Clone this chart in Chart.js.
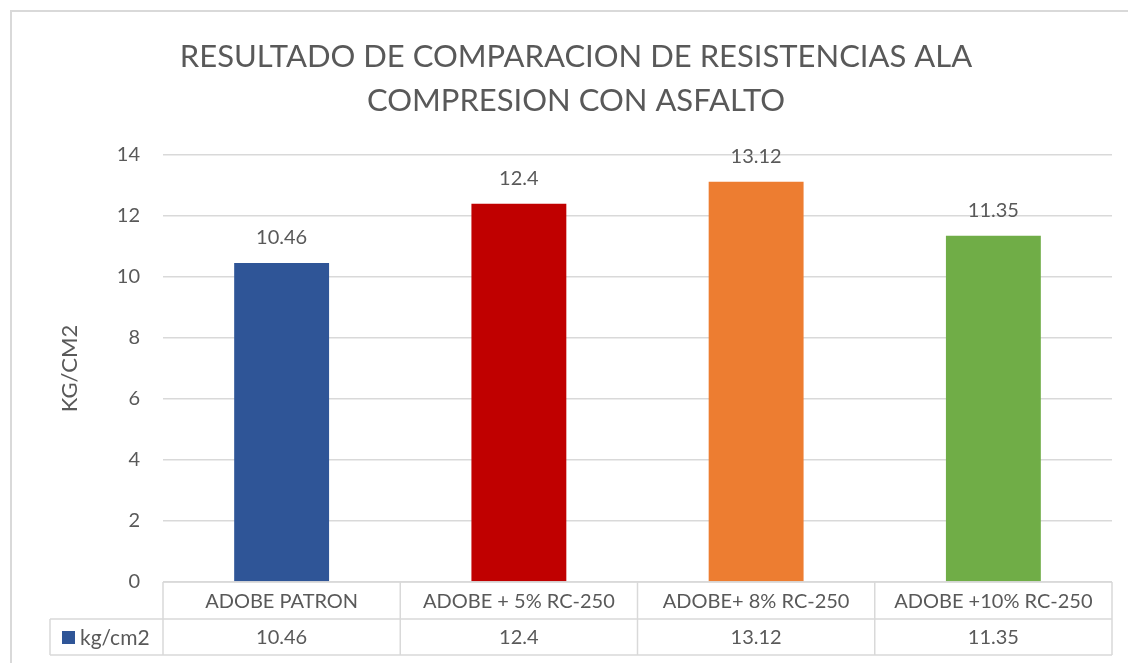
<!DOCTYPE html>
<html>
<head>
<meta charset="utf-8">
<script src="https://cdn.jsdelivr.net/npm/chart.js@4.4.1/dist/chart.umd.min.js"></script>
<style>
    html, body { margin: 0; padding: 0; background: #fff; overflow: hidden; }
    #wrap { position: relative; width: 1128px; height: 663px; overflow: hidden; }
    #frame { position: absolute; left: 10px; top: 10px; width: 1200px; height: 700px; border: 2px solid #d9d9d9; box-sizing: border-box; }
    #usageChart { position: absolute; left: 0; top: 0; }
</style>
</head>
<body>
<div id="wrap">
    <div id="frame"></div>
    <canvas id="usageChart" width="1128" height="663"></canvas>
</div>
<script>
const categories = ['ADOBE PATRON', 'ADOBE + 5% RC-250', 'ADOBE+ 8% RC-250', 'ADOBE +10% RC-250'];
const values = [10.46, 12.4, 13.12, 11.35];
const barColors = ['#2F5597', '#C00000', '#ED7D31', '#70AD47'];
const seriesName = 'kg/cm2';
const titleLines = ['RESULTADO DE COMPARACION DE RESISTENCIAS ALA', 'COMPRESION CON ASFALTO'];
const yTitle = 'KG/CM2';

const textColor = '#595959';
const lineColor = '#d9d9d9';
const fontFamily = 'Lato, "Open Sans", sans-serif';

// chart title, centred a bit right like the original
const chartTitle = {
    id: 'chartTitle',
    afterDraw(chart) {
        const ctx = chart.ctx;
        ctx.save();
        ctx.fillStyle = textColor;
        ctx.font = '31px ' + fontFamily;
        ctx.textAlign = 'center';
        ctx.textBaseline = 'middle';
        ctx.fillText(titleLines[0], 576, 57);
        ctx.fillText(titleLines[1], 576, 101);
        ctx.restore();
    }
};

// value labels above the bars
const barLabels = {
    id: 'barLabels',
    afterDatasetsDraw(chart) {
        const ctx = chart.ctx;
        const meta = chart.getDatasetMeta(0);
        ctx.save();
        ctx.fillStyle = textColor;
        ctx.font = '20px ' + fontFamily;
        ctx.textAlign = 'center';
        ctx.textBaseline = 'middle';
        meta.data.forEach(function(bar, i) {
            ctx.fillText(String(values[i]), bar.x, bar.y - 25);
        });
        ctx.restore();
    }
};

// data table under the plot (category row + value row + legend key)
const dataTable = {
    id: 'dataTable',
    afterDraw(chart) {
        const ctx = chart.ctx;
        const area = chart.chartArea;
        const xs = chart.scales.x;
        const n = categories.length;
        const step = (area.right - area.left) / n;
        const top = area.bottom;
        const mid = top + 37;
        const bot = top + 73;
        const legLeft = 50;

        ctx.save();
        ctx.strokeStyle = lineColor;
        ctx.lineWidth = 1.5;
        ctx.beginPath();
        ctx.moveTo(area.left, top); ctx.lineTo(area.right, top);
        ctx.moveTo(legLeft, mid); ctx.lineTo(area.right, mid);
        ctx.moveTo(legLeft, bot); ctx.lineTo(area.right, bot);
        ctx.moveTo(legLeft, mid); ctx.lineTo(legLeft, bot);
        for (let i = 0; i <= n; i++) {
            const x = area.left + step * i;
            ctx.moveTo(x, top); ctx.lineTo(x, bot);
        }
        ctx.stroke();

        ctx.fillStyle = textColor;
        ctx.font = '20px ' + fontFamily;
        ctx.textAlign = 'center';
        ctx.textBaseline = 'middle';
        categories.forEach(function(c, i) {
            const x = xs.getPixelForValue(i);
            ctx.fillText(c, x, (top + mid) / 2 + 1);
            ctx.fillText(String(values[i]), x, (mid + bot) / 2 + 1);
        });

        ctx.fillStyle = barColors[0];
        ctx.fillRect(62, (mid + bot) / 2 - 6, 13, 13);
        ctx.fillStyle = textColor;
        ctx.textAlign = 'left';
        ctx.font = '21px ' + fontFamily;
        ctx.fillText(seriesName, 80, (mid + bot) / 2 + 1);
        ctx.restore();
    }
};

new Chart(document.getElementById('usageChart'), {
    type: 'bar',
    data: {
        labels: categories,
        datasets: [{
            label: seriesName,
            data: values,
            backgroundColor: barColors,
            borderWidth: 0,
            categoryPercentage: 1,
            barPercentage: 0.4
        }]
    },
    options: {
        responsive: false,
        animation: false,
        layout: { padding: { left: 0, right: 16, top: 155, bottom: 81 } },
        plugins: {
            legend: { display: false },
            tooltip: { enabled: false },
            title: { display: false }
        },
        scales: {
            x: {
                display: false
            },
            y: {
                min: 0,
                max: 14,
                afterFit(scale) { scale.width = 163; },
                ticks: { stepSize: 2, color: textColor, padding: 23, font: { family: fontFamily, size: 20 } },
                grid: { color: lineColor, lineWidth: 1.5, drawTicks: false },
                border: { display: false },
                title: {
                    display: true,
                    text: yTitle,
                    color: textColor,
                    font: { family: fontFamily, size: 22, lineHeight: 1.2 },
                    padding: { top: 57, bottom: 0 }
                }
            }
        }
    },
    plugins: [chartTitle, barLabels, dataTable]
});
</script>
</body>
</html>
